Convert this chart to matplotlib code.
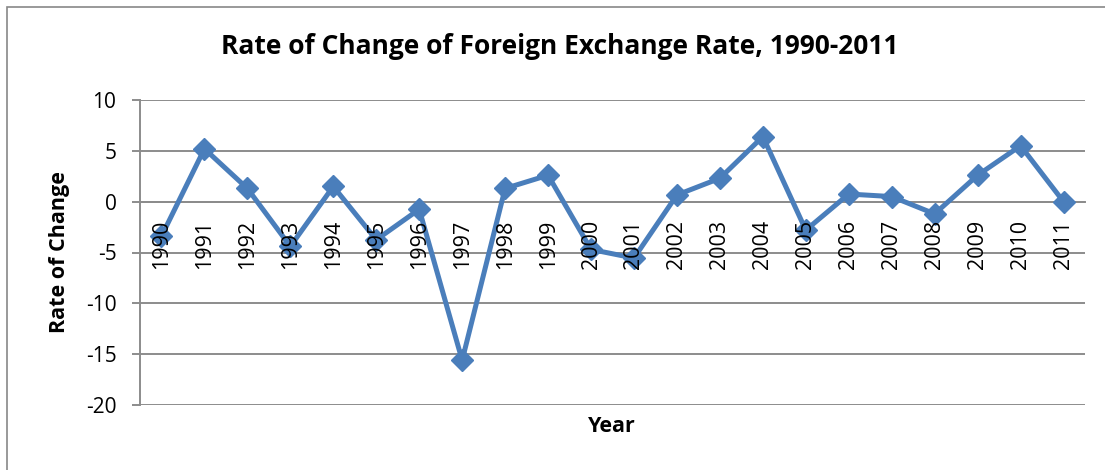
import matplotlib
matplotlib.use("Agg")
import matplotlib.pyplot as plt
from matplotlib.patches import Rectangle

years = ["1990", "1991", "1992", "1993", "1994", "1995", "1996", "1997", "1998", "1999", "2000",
         "2001", "2002", "2003", "2004", "2005", "2006", "2007", "2008", "2009", "2010", "2011"]
rates = [-3.4, 5.2, 1.3, -4.4, 1.5, -3.75, -0.75, -15.6, 1.3, 2.6, -4.7,
         -5.55, 0.66, 2.3, 6.4, -2.8, 0.75, 0.5, -1.2, 2.6, 5.5, 0.0]
yticks = [10, 5, 0, -5, -10, -15, -20]

plt.rcParams['font.family'] = ['Open Sans', 'DejaVu Sans']

fig = plt.figure(figsize=(11.05, 4.70), dpi=100)
fig.patches.append(Rectangle((7/1105, -0.1), 1.2, 1.1 - 7/470, transform=fig.transFigure,
                             fill=False, edgecolor='#888888', linewidth=1.2))
ax = fig.add_axes([140/1105, 1 - 405/470, 945/1105, 305/470])

x = list(range(len(years)))
ax.spines['bottom'].set_position(('data', 0))
ax.plot(x, rates, color='#4A7EBB', linewidth=3.6, marker='D', markersize=11,
        markerfacecolor='#4A7EBB', markeredgecolor='#4A7EBB', zorder=3)

ax.set_xlim(-0.5, len(years) - 0.5)
ax.set_ylim(-20, 10)
ax.set_yticks(yticks)
ax.set_yticklabels([str(v) for v in yticks], fontsize=15)
ax.yaxis.grid(True, color='#8c8c8c', linewidth=1.4)
ax.set_axisbelow(True)

ax.set_xticks(x)
ax.set_xticklabels(years, rotation=90, fontsize=15.5, va='top')
ax.xaxis.set_zorder(5)
ax.spines['bottom'].set_color('#8c8c8c')
ax.spines['bottom'].set_linewidth(1.4)
ax.spines['bottom'].set_zorder(1)
ax.spines['top'].set_visible(False)
ax.spines['right'].set_visible(False)
ax.spines['left'].set_color('#8c8c8c')
ax.spines['left'].set_linewidth(1.4)
ax.tick_params(axis='x', length=0, pad=13)
ax.tick_params(axis='y', length=6, color='#8c8c8c', width=1.4, pad=11)

fig.text(560/1105, 1 - 47/470, "Rate of Change of Foreign Exchange Rate, 1990-2011",
         ha='center', va='center', fontsize=19, fontweight='bold')
fig.text(60/1105, 1 - 252/470, "Rate of Change", rotation=90, ha='center', va='center',
         fontsize=15.5, fontweight='bold')
fig.text(612/1105, 1 - 427/470, "Year", ha='center', va='center', fontsize=15.5, fontweight='bold')

fig.savefig("out.png", dpi=100)
